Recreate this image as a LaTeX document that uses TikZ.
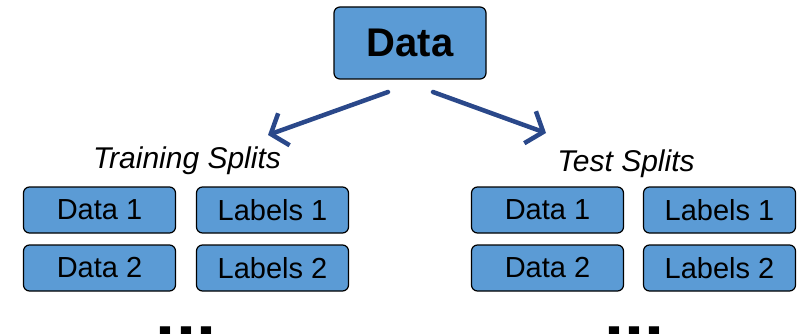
\documentclass[tikz,border=0pt]{standalone}
\usepackage{fontspec}
\setmainfont{Liberation Sans}
\usetikzlibrary{positioning, arrows.meta}

\definecolor{boxblue}{RGB}{91,155,213}
\definecolor{arrowblue}{RGB}{42,72,138}

\begin{document}
\begin{tikzpicture}[x=1pt,y=-1pt,node distance=58pt and 173pt,on grid,
		split/.style={rectangle,rounded corners=6pt,draw=black,line width=1.2pt,fill=boxblue,
			minimum width=152pt,minimum height=46pt,inner sep=0pt,font=\fontsize{29}{34}\selectfont},
		head/.style={font=\itshape\fontsize{30}{36}\selectfont,inner sep=0pt},
		more/.style={font=\bfseries\fontsize{72}{80}\selectfont,inner sep=0pt,anchor=base},
		link/.style={arrowblue,line width=4.5pt,line cap=round,line join=round,
			-{Straight Barb[length=14pt,width=34pt]}}]
	\useasboundingbox (0,0) rectangle (799,334);
	\node[split,minimum height=72pt,font=\bfseries\fontsize{40}{44}\selectfont] (D) at (410,43) {Data};
	% training splits
	\node[split] (tr1) at (99.5,210)        {Data 1};
	\node[split] (trl1) [right=of tr1]      {Labels 1};
	\node[split] (tr2) [below=of tr1]       {Data 2};
	\node[split] (trl2) [below=of trl1]     {Labels 2};
	\node[head] (trh) at (187,161)          {Training Splits};
	\node[more] (trm) at (186,337)          {...};
	% test splits
	\node[split] (te1) at (547.5,210)       {Data 1};
	\node[split] (tel1) [right=172pt of te1] {Labels 1};
	\node[split] (te2) [below=of te1]       {Data 2};
	\node[split] (tel2) [below=of tel1]     {Labels 2};
	\node[head] (teh) at (626,164)          {Test Splits};
	\node[more] (tem) at (634,337)          {...};
	% arrows
	\coordinate (ls) at (388,92);
	\coordinate (le) at (268,135);
	\coordinate (rs) at (433,92);
	\coordinate (re) at (546,133);
	\draw[link] (ls) -- (le);
	\draw[link] (rs) -- (re);
\end{tikzpicture}
\end{document}
